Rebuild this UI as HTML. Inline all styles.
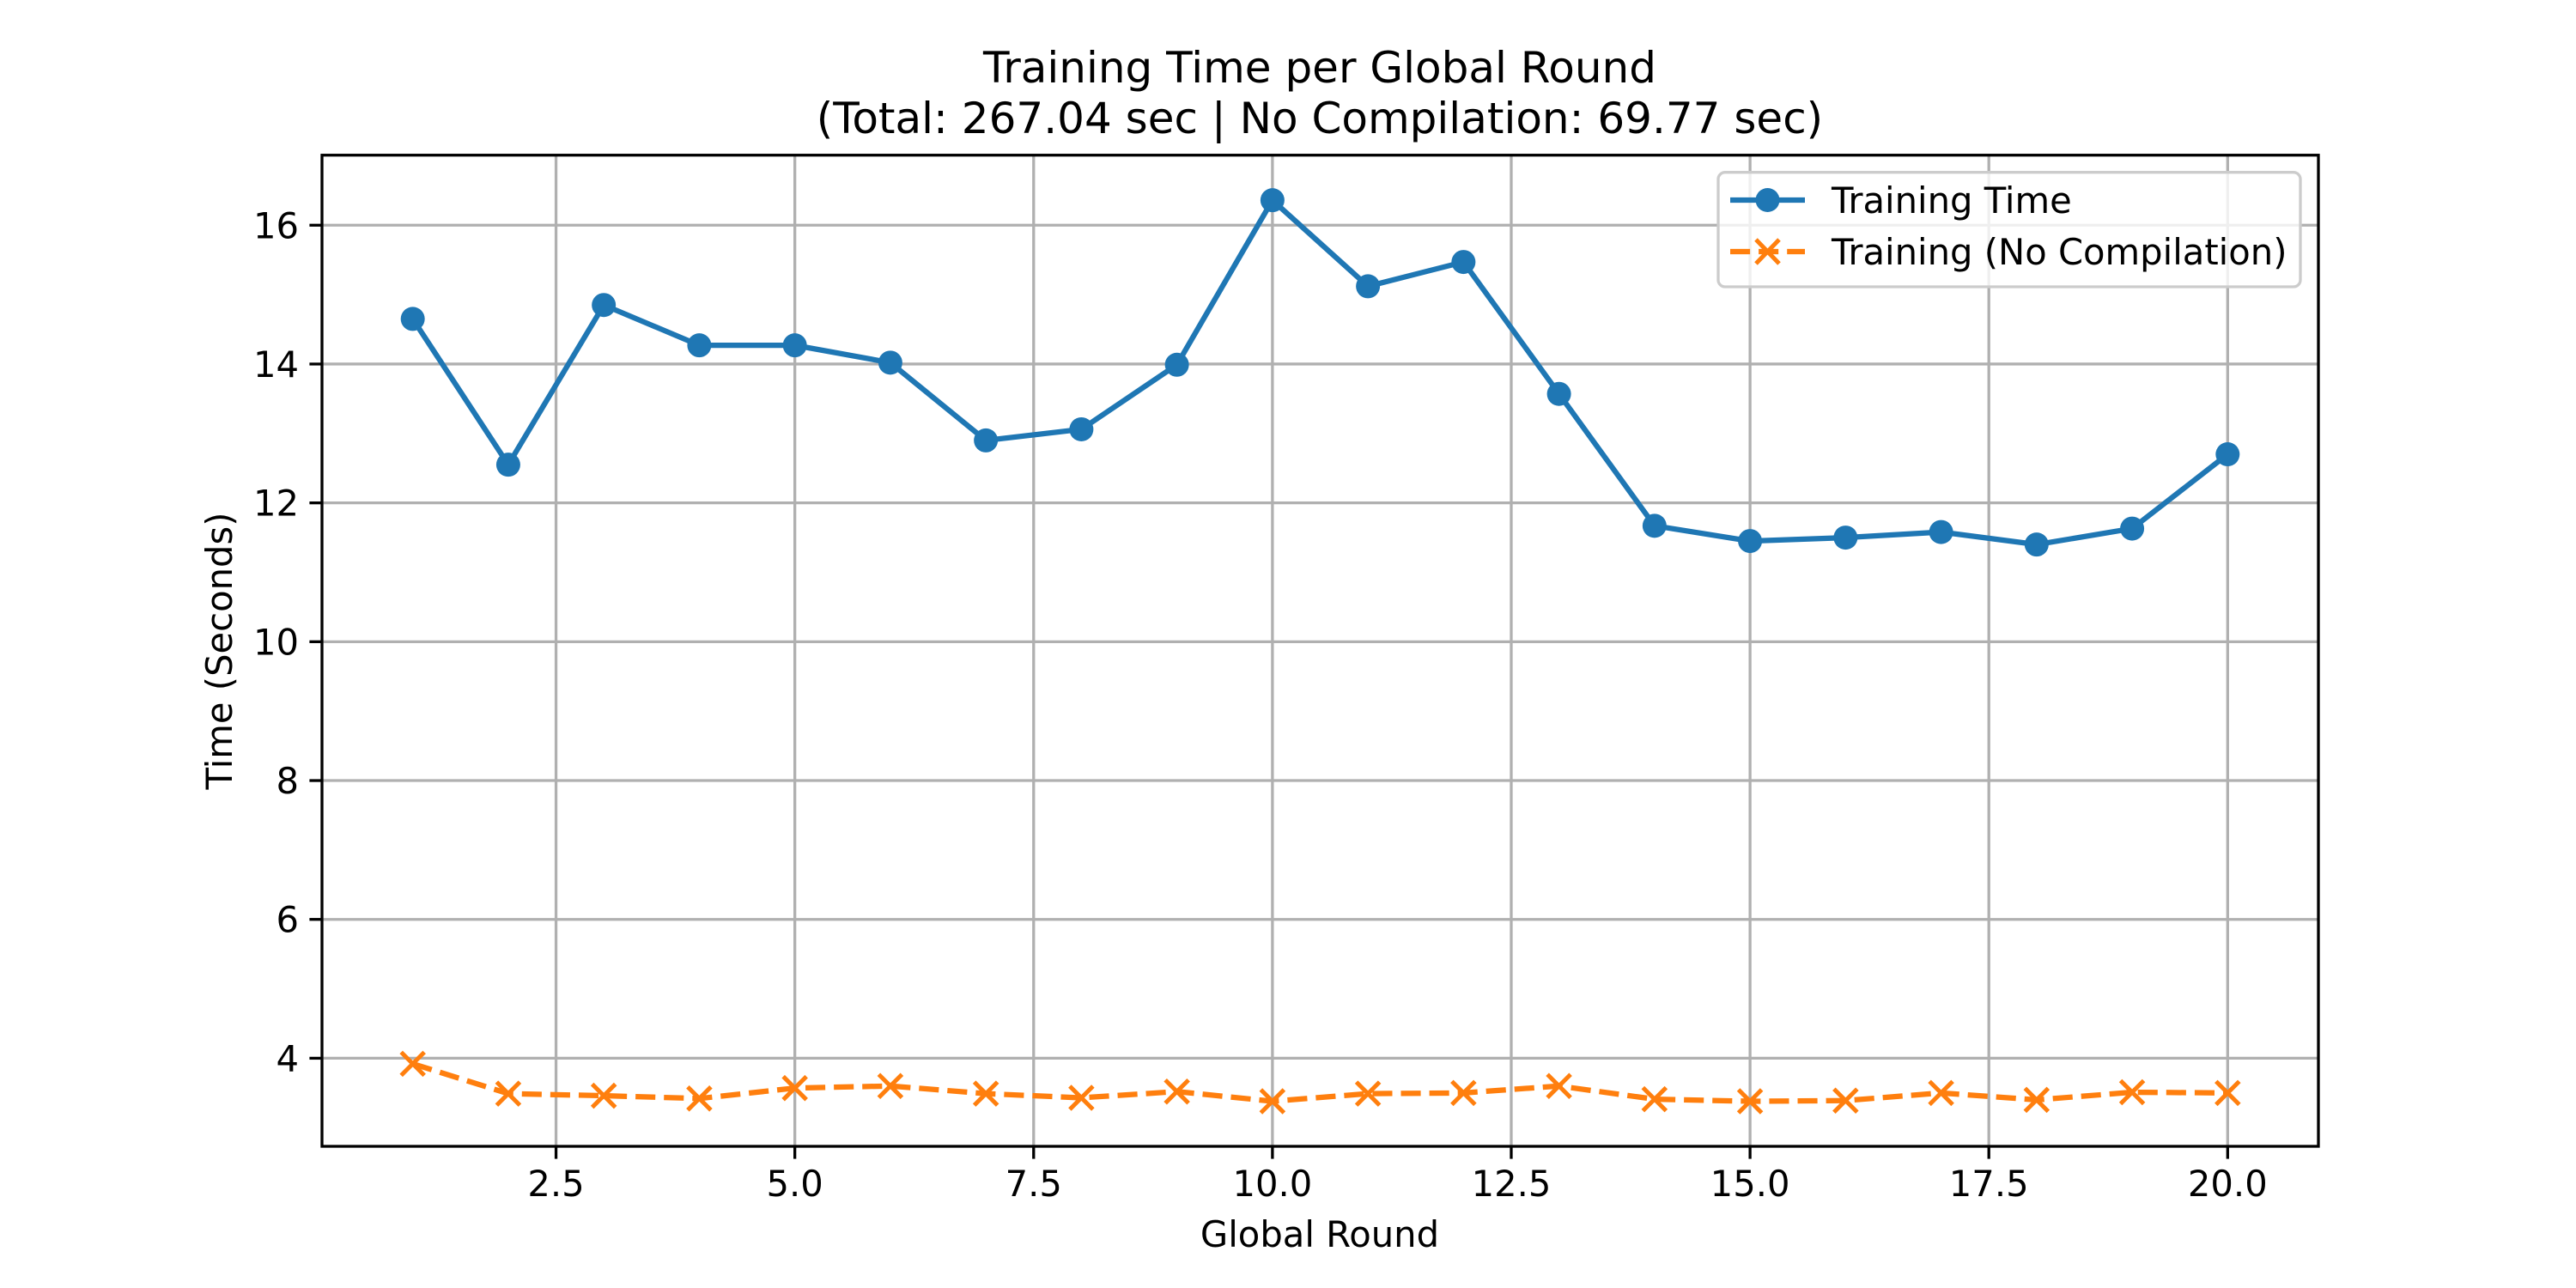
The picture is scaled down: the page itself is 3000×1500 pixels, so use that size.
<!DOCTYPE html>
<html><head><meta charset="utf-8"><style>
html,body{margin:0;padding:0;background:#fff;}
svg{display:block;font-family:"DejaVu Sans","Liberation Sans",sans-serif;}
</style></head><body>
<svg id="chart" width="3000" height="1500" viewBox="0 0 3000 1500" xmlns="http://www.w3.org/2000/svg">
<rect width="3000" height="1500" fill="#fff"/>
<text x="1537" y="96" font-size="50" text-anchor="middle">Training Time per Global Round</text>
<text x="1537" y="155" font-size="50" text-anchor="middle">(Total: 267.04 sec | No Compilation: 69.77 sec)</text>
<g id="grid"></g>
<g id="series"></g>
<rect x="375" y="180.7" width="2325" height="1154.3" fill="none" stroke="#000" stroke-width="3.3"/>
<g id="ticks"></g>
<text x="1537" y="1452" font-size="41.7" text-anchor="middle">Global Round</text>
<text x="0" y="0" font-size="41.7" text-anchor="middle" transform="translate(270,758) rotate(-90)">Time (Seconds)</text>
<g>
<rect x="2001" y="200.7" width="678" height="133.3" rx="8" fill="#fff" fill-opacity="0.8" stroke="#cccccc" stroke-width="3.3"/>
<g>
<line x1="2015" y1="233" x2="2102" y2="233" stroke="#1f77b4" stroke-width="6.25"/>
<circle cx="2058.5" cy="233" r="14" fill="#1f77b4"/>
<text x="2133" y="248" font-size="41.7">Training Time</text>
</g>
<g>
<line x1="2015" y1="293" x2="2102" y2="293" stroke="#ff7f0e" stroke-width="6.25" stroke-dasharray="23.1 10"/>
<path d="M2045 279 L2072 307 M2045 307 L2072 279" stroke="#ff7f0e" stroke-width="5"/>
<text x="2133" y="308" font-size="41.7">Training (No Compilation)</text>
</g>
</g>
</svg>
<script>
const rounds = [1,2,3,4,5,6,7,8,9,10,11,12,13,14,15,16,17,18,19,20];
const trainingTime = [14.65,12.55,14.85,14.27,14.27,14.02,12.90,13.06,13.99,16.36,15.12,15.47,13.57,11.67,11.45,11.50,11.58,11.40,11.63,12.70];
const noCompilation = [3.92,3.49,3.46,3.42,3.57,3.60,3.49,3.43,3.52,3.38,3.49,3.50,3.60,3.41,3.38,3.39,3.50,3.40,3.51,3.50];
const xTicks = [2.5,5.0,7.5,10.0,12.5,15.0,17.5,20.0];
const xTickLabels = ["2.5","5.0","7.5","10.0","12.5","15.0","17.5","20.0"];
const yTicks = [4,6,8,10,12,14,16];
const yTickLabels = ["4","6","8","10","12","14","16"];

const NS = "http://www.w3.org/2000/svg";
const L = 375, R = 2700, T = 180.7, B = 1335;
const allX = rounds, allY = trainingTime.concat(noCompilation);
const xMin0 = Math.min(...allX), xMax0 = Math.max(...allX);
const yMin0 = Math.min(...allY), yMax0 = Math.max(...allY);
const xPad = (xMax0 - xMin0) * 0.05, yPad = (yMax0 - yMin0) * 0.05;
const xMin = xMin0 - xPad, xMax = xMax0 + xPad, yMin = yMin0 - yPad, yMax = yMax0 + yPad;
function sx(v){ return L + (v - xMin) / (xMax - xMin) * (R - L); }
function sy(v){ return B - (v - yMin) / (yMax - yMin) * (B - T); }
function mk(tag, attrs, parent){ const e = document.createElementNS(NS, tag); for (const k in attrs) e.setAttribute(k, attrs[k]); parent.appendChild(e); return e; }

const grid = document.getElementById('grid');
const ticks = document.getElementById('ticks');
xTicks.forEach((v, i) => {
  const x = sx(v);
  const g = mk('line', {x1:x, y1:T, x2:x, y2:B, stroke:'#b0b0b0', 'stroke-width':3.3}, grid);
  
  
  const t = mk('line', {x1:x, y1:B, x2:x, y2:B+14.6, stroke:'#000', 'stroke-width':3.3}, ticks);
  
  
  const tx = mk('text', {x:x, y:B+58, 'font-size':41.7, 'text-anchor':'middle'}, ticks);
  tx.textContent = xTickLabels[i];
  
  
});
yTicks.forEach((v, i) => {
  const y = sy(v);
  const g = mk('line', {x1:L, y1:y, x2:R, y2:y, stroke:'#b0b0b0', 'stroke-width':3.3}, grid);
  
  
  const t = mk('line', {x1:L-14.6, y1:y, x2:L, y2:y, stroke:'#000', 'stroke-width':3.3}, ticks);
  
  
  const tx = mk('text', {x:L-27, y:y+15, 'font-size':41.7, 'text-anchor':'end'}, ticks);
  tx.textContent = yTickLabels[i];
  
  
});

const series = document.getElementById('series');
const bluePts = rounds.map((r, i) => sx(r) + ',' + sy(trainingTime[i])).join(' ');
const bl = mk('polyline', {points:bluePts, fill:'none', stroke:'#1f77b4', 'stroke-width':6.25, 'stroke-linejoin':'round', 'stroke-linecap':'square'}, series);


rounds.forEach((r, i) => {
  const c = mk('circle', {cx:sx(r), cy:sy(trainingTime[i]), r:14, fill:'#1f77b4'}, series);
  
  
});
const orPts = rounds.map((r, i) => sx(r) + ',' + sy(noCompilation[i])).join(' ');
const ol = mk('polyline', {points:orPts, fill:'none', stroke:'#ff7f0e', 'stroke-width':6.25, 'stroke-dasharray':'23.1 10', 'stroke-linejoin':'round'}, series);


rounds.forEach((r, i) => {
  const x = sx(r), y = sy(noCompilation[i]), h = 13.5;
  const p = mk('path', {d:`M${x-h} ${y-h} L${x+h} ${y+h} M${x-h} ${y+h} L${x+h} ${y-h}`, stroke:'#ff7f0e', 'stroke-width':5, fill:'none'}, series);
  
  
});
</script>
</body></html>
